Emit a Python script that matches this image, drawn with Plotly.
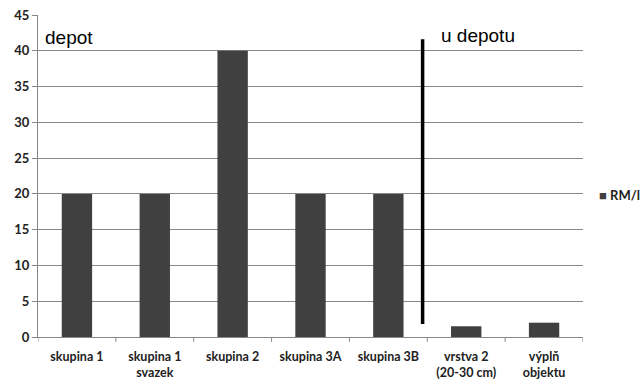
import plotly.graph_objects as go

categories = ["skupina 1", "skupina 1<br>svazek", "skupina 2", "skupina 3A", "skupina 3B",
              "vrstva 2<br>(20-30 cm)", "výplň<br>objektu"]
values = [20, 20, 40, 20, 20, 1.5, 2]
series_name = "RM/l"
bar_color = "#404040"

# divider between the depot groups and the rest (category position, value range)
divider_x = 4.44
divider_y = [1.8, 41.6]

fig = go.Figure()
fig.add_trace(go.Bar(
    x=list(range(len(categories))), y=values, name=series_name,
    marker=dict(color=bar_color, line=dict(width=0)),
    width=0.39, showlegend=False,
))

fig.add_shape(type="line", xref="x", yref="y",
              x0=divider_x, x1=divider_x, y0=divider_y[0], y1=divider_y[1],
              line=dict(color="black", width=3.5))

fig.add_annotation(text="depot", xref="x", yref="y", x=-0.43, y=41.9, xanchor="left",
                   yanchor="middle", showarrow=False,
                   font=dict(family="Liberation Sans, Arial", size=19, color="black"))
fig.add_annotation(text="u depotu", xref="x", yref="y", x=4.65, y=42.2, xanchor="left",
                   yanchor="middle", showarrow=False,
                   font=dict(family="Liberation Sans, Arial", size=19, color="black"))

# legend entry drawn in the right margin
fig.add_annotation(text=f"<span style='color:{bar_color}'>■</span> {series_name}",
                   xref="paper", yref="paper", x=1.025, y=0.44, xanchor="left",
                   yanchor="middle", showarrow=False,
                   font=dict(family="Lato", size=13, color="#222", weight="bold"))

fig.update_layout(
    width=641, height=381,
    margin=dict(l=38, r=58, t=15, b=44),
    paper_bgcolor="white", plot_bgcolor="white",
    showlegend=False,
    font=dict(family="Lato", color="#222"),
)
fig.update_xaxes(
    tickmode="array", tickvals=list(range(len(categories))), ticktext=categories,
    range=[-0.5, len(categories) - 0.5],
    showline=True, linecolor="#888", linewidth=1,
    showgrid=False, zeroline=False, ticklabelstandoff=8, automargin=False,
    tickfont=dict(family="Lato", size=12.5, color="#222", weight="bold"),
)
fig.update_yaxes(
    range=[0, 45], dtick=5, automargin=False,
    showline=True, linecolor="#888", linewidth=1,
    ticks="outside", ticklen=5, tickcolor="#888",
    showgrid=True, gridcolor="#888", gridwidth=1, zeroline=False,
    tickfont=dict(family="Lato", size=13, color="#222", weight="bold"),
)
# tick marks at category boundaries
for b in [i + 0.5 for i in range(-1, len(categories))]:
    fig.add_shape(type="line", xref="x", yref="paper", x0=b, x1=b, y0=0, y1=-0.015,
                  line=dict(color="#888", width=1))

fig.write_html("out.html")
